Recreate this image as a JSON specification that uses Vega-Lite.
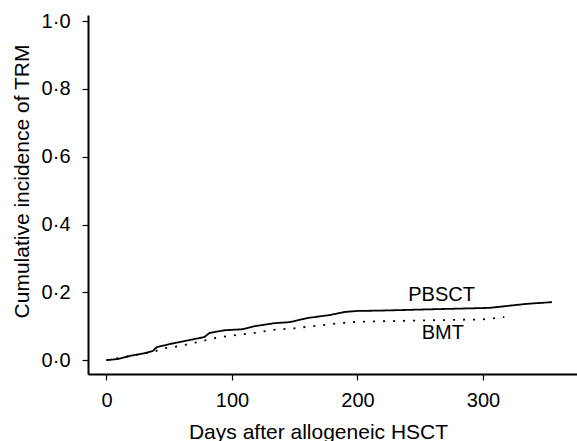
{
  "$schema": "https://vega.github.io/schema/vega-lite/v6.json",
  "autosize": "none",
  "padding": {"left": 88, "top": 15, "right": 0, "bottom": 67},
  "width": 489,
  "height": 359,
  "background": "white",
  "config": {
    "view": {"stroke": null},
    "font": "Liberation Sans",
    "axis": {"grid": false, "domainColor": "black", "tickColor": "black", "labelColor": "black", "titleColor": "black", "labelFont": "Liberation Sans", "titleFont": "Liberation Sans", "titleFontWeight": "normal", "domainWidth": 2, "tickWidth": 1.2}
  },
  "datasets": {
    "curves": [
      {"series": "PBSCT", "day": 0, "value": 0.0},
      {"series": "PBSCT", "day": 9, "value": 0.003},
      {"series": "PBSCT", "day": 18, "value": 0.012},
      {"series": "PBSCT", "day": 30, "value": 0.02},
      {"series": "PBSCT", "day": 37, "value": 0.027},
      {"series": "PBSCT", "day": 40, "value": 0.038},
      {"series": "PBSCT", "day": 50, "value": 0.047},
      {"series": "PBSCT", "day": 58, "value": 0.053},
      {"series": "PBSCT", "day": 70, "value": 0.062},
      {"series": "PBSCT", "day": 78, "value": 0.068},
      {"series": "PBSCT", "day": 82, "value": 0.08},
      {"series": "PBSCT", "day": 94, "value": 0.088},
      {"series": "PBSCT", "day": 108, "value": 0.091},
      {"series": "PBSCT", "day": 118, "value": 0.1},
      {"series": "PBSCT", "day": 134, "value": 0.109},
      {"series": "PBSCT", "day": 146, "value": 0.112},
      {"series": "PBSCT", "day": 160, "value": 0.124},
      {"series": "PBSCT", "day": 178, "value": 0.133},
      {"series": "PBSCT", "day": 190, "value": 0.142},
      {"series": "PBSCT", "day": 200, "value": 0.145},
      {"series": "PBSCT", "day": 218, "value": 0.146},
      {"series": "PBSCT", "day": 260, "value": 0.15},
      {"series": "PBSCT", "day": 305, "value": 0.154},
      {"series": "PBSCT", "day": 335, "value": 0.166},
      {"series": "PBSCT", "day": 355, "value": 0.171},
      {"series": "BMT", "day": 0, "value": 0.0},
      {"series": "BMT", "day": 37, "value": 0.024},
      {"series": "BMT", "day": 46, "value": 0.035},
      {"series": "BMT", "day": 58, "value": 0.041},
      {"series": "BMT", "day": 76, "value": 0.056},
      {"series": "BMT", "day": 90, "value": 0.068},
      {"series": "BMT", "day": 104, "value": 0.074},
      {"series": "BMT", "day": 118, "value": 0.08},
      {"series": "BMT", "day": 132, "value": 0.089},
      {"series": "BMT", "day": 150, "value": 0.094},
      {"series": "BMT", "day": 164, "value": 0.1},
      {"series": "BMT", "day": 186, "value": 0.109},
      {"series": "BMT", "day": 200, "value": 0.113},
      {"series": "BMT", "day": 250, "value": 0.117},
      {"series": "BMT", "day": 300, "value": 0.12},
      {"series": "BMT", "day": 317, "value": 0.127}
    ],
    "labels": [
      {"series": "PBSCT", "day": 267, "value": 0.193},
      {"series": "BMT", "day": 268, "value": 0.081}
    ]
  },
  "layer": [
    {
      "data": {"name": "curves"},
      "mark": {"type": "line", "strokeWidth": 1.8, "color": "black", "clip": true},
      "encoding": {
        "x": {"field": "day", "type": "quantitative", "scale": {"domain": [-14.7, 374.9], "nice": false, "zero": false},
          "axis": {"values": [0, 100, 200, 300], "title": "Days after allogeneic HSCT", "labelFontSize": 20, "titleFontSize": 21, "tickSize": 6, "labelPadding": 10, "titleX": 230, "titleY": 64, "titleBaseline": "alphabetic", "titleAnchor": "middle", "titleAlign": "center"}},
        "y": {"field": "value", "type": "quantitative", "scale": {"domain": [-0.041, 1.018], "nice": false, "zero": false},
          "axis": {"values": [0, 0.2, 0.4, 0.6, 0.8, 1.0], "labelExpr": "replace(format(datum.value, '.1f'), '.', '·')", "title": "Cumulative incidence of TRM", "labelFontSize": 20, "titleFontSize": 21, "tickSize": 6, "labelPadding": 12, "titleX": -66, "titleY": 166, "titleBaseline": "middle", "titleAlign": "center", "titleAnchor": "middle"}},
        "detail": {"field": "series"},
        "strokeDash": {"field": "series", "type": "nominal", "scale": {"domain": ["PBSCT", "BMT"], "range": [[1, 0], [2, 8]]}, "legend": null}
      }
    },
    {
      "data": {"name": "labels"},
      "mark": {"type": "text", "fontSize": 20, "font": "Liberation Sans", "color": "black", "align": "center", "baseline": "middle"},
      "encoding": {
        "x": {"field": "day", "type": "quantitative"},
        "y": {"field": "value", "type": "quantitative"},
        "text": {"field": "series"}
      }
    }
  ]
}
